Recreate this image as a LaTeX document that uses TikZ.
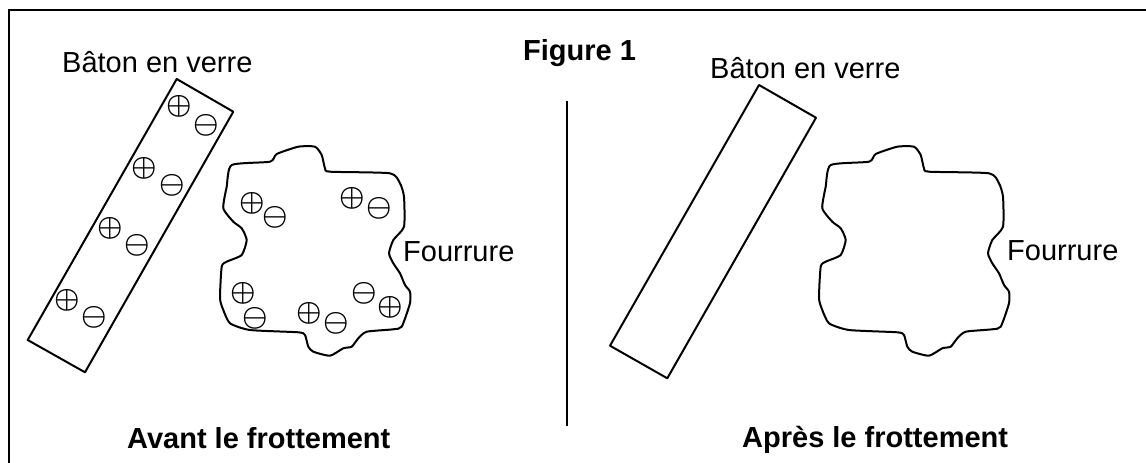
\documentclass[tikz,border=0pt]{standalone}
\usepackage{fontspec}
\setmainfont{Liberation Sans}
\newcommand{\chgP}{\scalebox{2.85}{\boldmath$\oplus$}}
\newcommand{\chgM}{\scalebox{2.85}{\boldmath$\ominus$}}
\begin{document}
\begin{tikzpicture}[x=1pt,y=-1pt,
  lbl/.style={font=\fontsize{29}{30}\selectfont, inner sep=0pt, anchor=base west},
  ttl/.style={font=\fontsize{29}{30}\selectfont\bfseries, inner sep=0pt, anchor=base west},
  chg/.style={inner sep=0pt},
  outline/.style={line width=2pt, line join=round},
  framel/.style={line width=2.5pt}]
\useasboundingbox (0,0) rectangle (1146,463);
\fill[white] (0,0) rectangle (1146,463);
% frame
\coordinate (fB) at (9,463);
\coordinate (fTL) at (9,10);
\coordinate (fTR) at (1146,10);
\draw[framel] (fB) -- (fTL) -- (fTR);
% divider
\coordinate (dT) at (566.5,101);
\coordinate (dB) at (566.5,426);
\draw[line width=2pt] (dT) -- (dB);
% titles
\node[ttl] (fig) at (523,60) {Figure 1};
\node[ttl] (avant) at (127,448) {Avant le frottement};
\node[ttl] (apres) at (742,447) {Après le frottement};
% labels
\node[lbl] (bat1) at (62,72) {Bâton en verre};
\node[lbl] (bat2) at (710,78) {Bâton en verre};
\node[lbl] (fou1) at (403,261) {Fourrure};
\node[lbl] (fou2) at (1007,260) {Fourrure};
% rods
\coordinate (r1a) at (176.7,79);
\coordinate (r1b) at (233.3,111.7);
\coordinate (r1c) at (85,372.3);
\coordinate (r1d) at (27.7,340);
\draw[outline] (r1a) -- (r1b) -- (r1c) -- (r1d) -- cycle;
\coordinate (r2a) at (759,85);
\coordinate (r2b) at (816,117.7);
\coordinate (r2c) at (667.3,378.3);
\coordinate (r2d) at (610,345.7);
\draw[outline] (r2a) -- (r2b) -- (r2c) -- (r2d) -- cycle;
% fur
\def\furpts{(231.7,165) (270,161.7) (276.7,154) (298.3,146.7) (315,146.7) (321.7,155) (325,168.3) (330,171.7) (390,173.3) (400,183.3) (404,196.7) (404,226.7) (393.3,240) (389,253.3) (393.3,263.3) (400,273.3) (405,285) (410,291.7) (410,303.3) (401.7,326.7) (393.3,329.3) (366.7,331.7) (358.3,338.3) (351.7,346.7) (343.3,348.3) (330,355.7) (313.3,351.7) (308.3,346.7) (305,335) (298.3,332.3) (250,330) (230,323.3) (223.3,310) (220,298.3) (221.7,266.7) (226.7,261.7) (241.7,255) (246.7,240) (241.7,228.3) (233.3,221.7) (223.3,208.3) (226.7,186.7)}
\draw[outline] plot[smooth cycle, tension=0.35] coordinates {\furpts};
\begin{scope}[shift={(599,0)}]
\draw[outline] plot[smooth cycle, tension=0.35] coordinates {\furpts};
\end{scope}
% charges on rod
\node[chg] (p1) at (179,106.7) {\chgP};
\node[chg] (m1) at (206.7,125) {\chgM};
\node[chg] (p2) at (144,168.3) {\chgP};
\node[chg] (m2) at (172.3,185) {\chgM};
\node[chg] (p3) at (110,228.3) {\chgP};
\node[chg] (m3) at (137.7,245.7) {\chgM};
\node[chg] (p4) at (67.3,300.7) {\chgP};
\node[chg] (m4) at (94,317.3) {\chgM};
% charges on fur
\node[chg] (fp1) at (252.7,203.3) {\chgP};
\node[chg] (fm1) at (275,217.3) {\chgM};
\node[chg] (fp2) at (352.7,198.3) {\chgP};
\node[chg] (fm2) at (379,208.3) {\chgM};
\node[chg] (fp3) at (243.3,293.3) {\chgP};
\node[chg] (fm3) at (255,318.3) {\chgM};
\node[chg] (fp4) at (309,313.3) {\chgP};
\node[chg] (fm4) at (336.7,323.3) {\chgM};
\node[chg] (fm5) at (364.3,293.3) {\chgM};
\node[chg] (fp5) at (390.7,307.3) {\chgP};
\end{tikzpicture}
\end{document}
